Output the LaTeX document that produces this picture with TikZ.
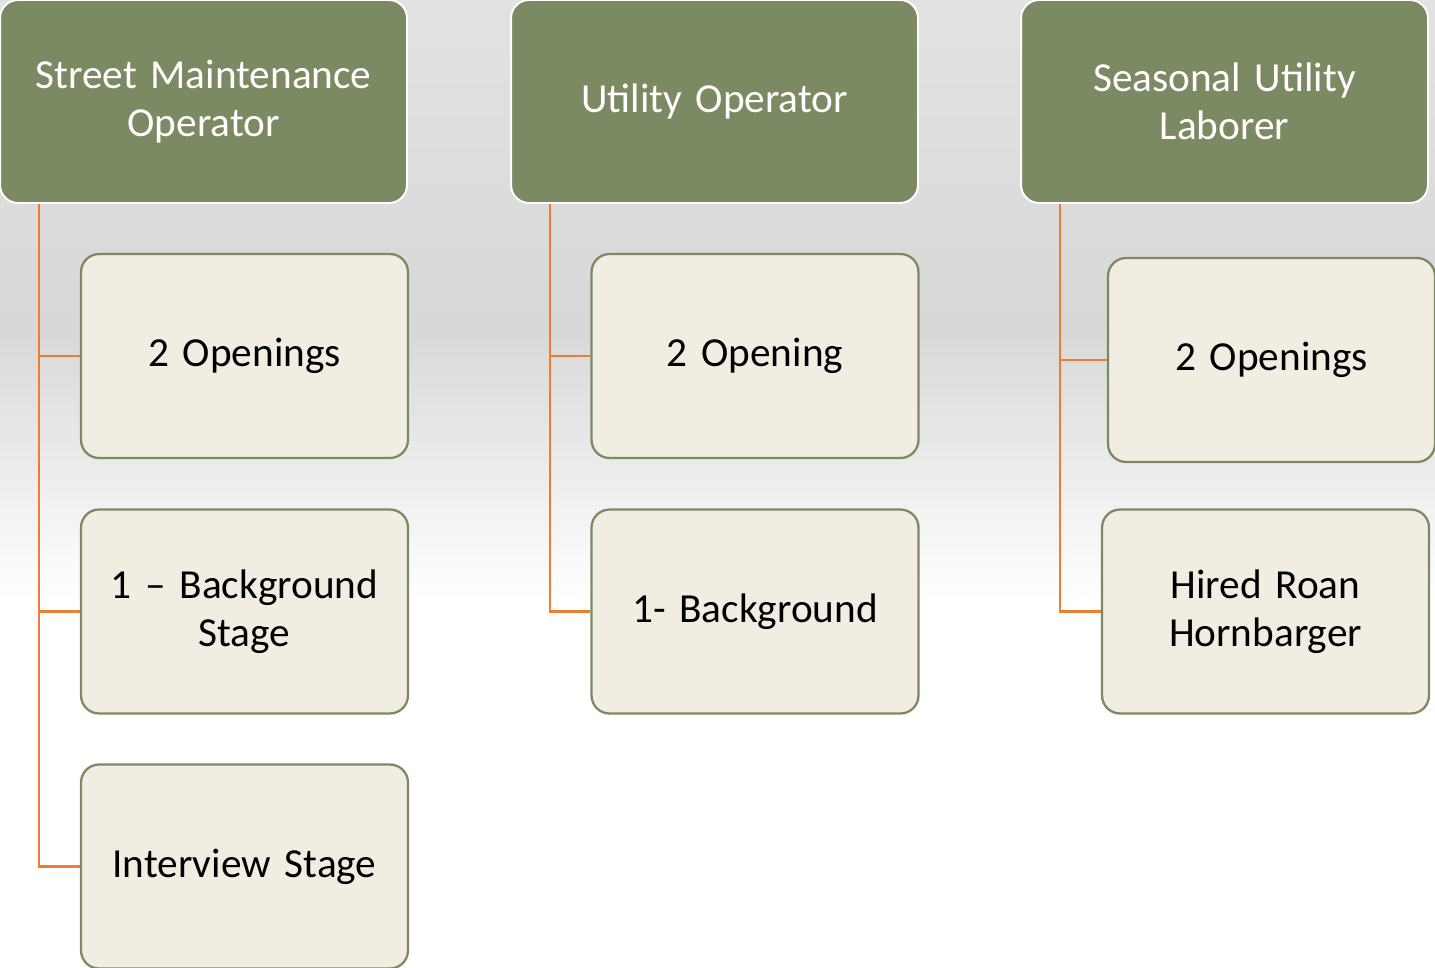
\documentclass[tikz,border=0pt]{standalone}
\usepackage{fontspec}
\setmainfont{Carlito}
\usepackage{tikz}

\definecolor{olive}{HTML}{7C8A64}
\definecolor{cream}{HTML}{F2EDE3}
\definecolor{linkorange}{HTML}{ED7D31}
\definecolor{bgtop}{HTML}{E2E2E2}
\definecolor{bgmid}{HTML}{D8D8D8}

\tikzset{
  header/.style={rectangle, rounded corners=0.36cm, fill=olive, draw=white,
    line width=1.1pt, minimum width=8.14cm, minimum height=4.06cm,
    text width=7.6cm, align=center, text=white,
    font=\fontsize{23.5}{27.5}\selectfont},
  child/.style={rectangle, rounded corners=0.36cm, fill=cream, draw=olive,
    line width=1.3pt, minimum width=6.54cm, minimum height=4.08cm,
    text width=6.2cm, align=center, text=black,
    font=\fontsize{23.5}{27.5}\selectfont},
  link/.style={draw=linkorange, line width=1.2pt}
}

\begin{document}
\begin{tikzpicture}[x=0.02cm, y=-0.02cm]
    \useasboundingbox (0,0) rectangle (1435,967);
    % background
    \fill[white] (0,0) rectangle (1435,967);
    \shade[top color=bgtop, bottom color=bgmid] (0,0) rectangle (1435,330);
    \shade[top color=bgmid, bottom color=white] (0,330) rectangle (1435,600);

    % headers
    \node[header] (h1) at (203.5,101.5) {Street Maintenance\\Operator};
    \node[header] (h2) at (714.5,101.5) {Utility Operator};
    \node[header] (h3) at (1224.5,101.5) {Seasonal Utility\\Laborer};

    % first column
    \node[child] (c11) at (244.5,356) {2 Openings};
    \node[child] (c12) at (244.5,611.5) {1 -- Background\\Stage};
    \node[child] (c13) at (244.5,866.5) {Interview Stage};

    % second column
    \node[child] (c21) at (755,356) {2 Opening};
    \node[child] (c22) at (755,611.5) {1- Background};

    % third column
    \node[child] (c31) at (1271.5,360) {2 Openings};
    \node[child] (c32) at (1265.5,611.5) {Hired Roan\\Hornbarger};

    % connectors
    \begin{scope}[on background layer/.try]
    \path (h1.south west) ++(40,0) coordinate (t1);
    \path (h2.south west) ++(40,0) coordinate (t2);
    \path (h3.south west) ++(40,0) coordinate (t3);
    \end{scope}
    \draw[link] (t1) |- (c11.west);
    \draw[link] (t1) |- (c12.west);
    \draw[link] (t1) |- (c13.west);
    \draw[link] (t2) |- (c21.west);
    \draw[link] (t2) |- (c22.west);
    \draw[link] (t3) |- (c31.west);
    \draw[link] (t3) |- (c32.west);
\end{tikzpicture}
\end{document}
